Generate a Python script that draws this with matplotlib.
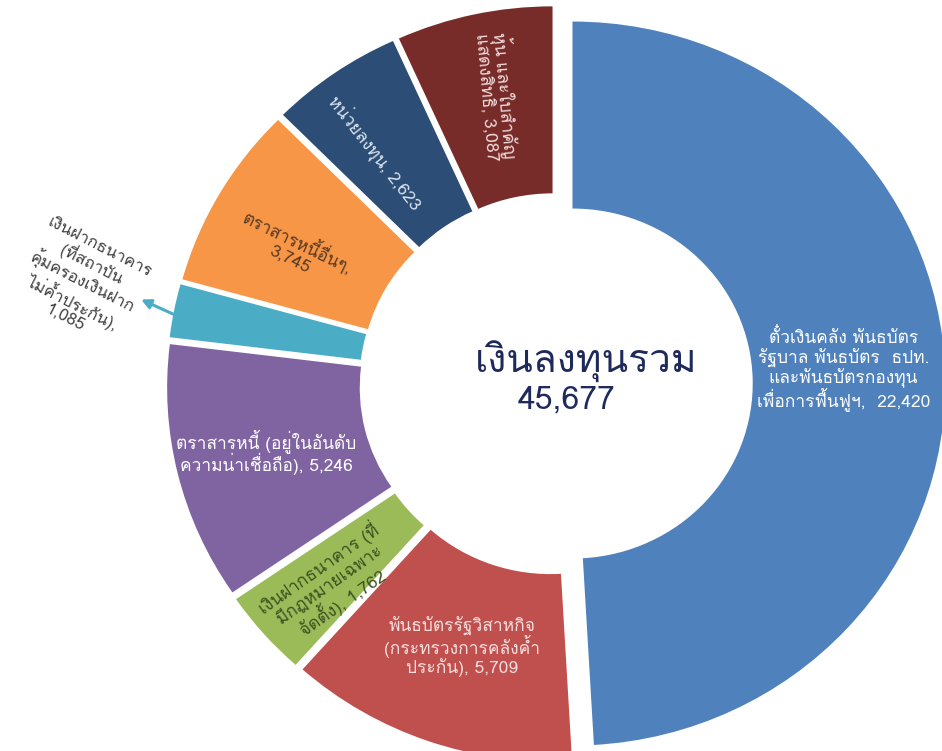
''' Investment portfolio donut chart (Thai labels) '''
import numpy as np
import matplotlib
matplotlib.use('Agg')
import matplotlib.pyplot as plt
from matplotlib import font_manager
from matplotlib.ft2font import FT2Font

# ---- data, clockwise from 12 o'clock ----
names = ['ตั๋วเงินคลัง พันธบัตร\nรัฐบาล พันธบัตร  ธปท.\nและพันธบัตรกองทุน\nเพื่อการฟื้นฟูฯ',
         'พันธบัตรรัฐวิสาหกิจ\n(กระทรวงการคลังค้ำ\nประกัน)',
         'เงินฝากธนาคาร (ที่\nมีกฎหมายเฉพาะ\nจัดตั้ง)',
         'ตราสารหนี้ (อยู่ในอันดับ\nความน่าเชื่อถือ)',
         'เงินฝากธนาคาร\n(ที่สถาบัน\nคุ้มครองเงินฝาก\nไม่ค้ำประกัน)',
         'ตราสารหนี้อื่นๆ',
         'หน่วยลงทุน',
         'หุ้น และใบสำคัญ\nแสดงสิทธิ']
values = [22420, 5709, 1762, 5246, 1085, 3745, 2623, 3087]
joins = [',  ', ', ', ', ', ', ', ',\n', ',\n', ', ', ', ']
total_label = 'เงินลงทุนรวม'
total = sum(values)

colors = ['#4F81BD', '#C0504D', '#9BBB59', '#8064A2',
          '#4BACC6', '#F79646', '#2C4D75', '#772C2A']
text_colors = ['white', '#F5DEDD', '#3B5220', 'white',
               '#404040', '#5A3A22', '#DCE6F2', '#F2DCDB']
rotations = [0, 0, 35, 0, -27, -26, -52, -85]
# small nudges of the in-slice labels (pixels, x right / y up)
nudges = [(-16, 6), (6, 16), (2, -6), (5, 2), (0, 0), (1, -14), (-7, -10), (6, 0)]

SX = 1.03  # the donut is drawn slightly wider than tall


def thai_font():
    '''Find an installed font that has Thai glyphs'''
    for entry in font_manager.fontManager.ttflist:
        try:
            if 0x0E07 in FT2Font(entry.fname).get_charmap():
                return entry.name
        except Exception:
            continue
    return 'DejaVu Sans'


def plot_donut():
    '''Draw the exploded donut with rotated labels'''
    font = thai_font()
    plt.rcParams['font.family'] = [font, 'DejaVu Sans']

    fig = plt.figure(figsize=(9.42, 7.51), dpi=100)
    ax = fig.add_axes([0, 0, 1, 1])

    cx, cy = 556 / SX, 751 - 384
    radius = 362
    ring = 187
    explode = [16] * len(values)

    labels = [n + j + f'{v:,}' for n, j, v in zip(names, joins, values)]
    wedges, texts = ax.pie(values, colors=colors, startangle=90,
                           counterclock=False, explode=explode,
                           center=(cx, cy), radius=radius,
                           labels=labels, labeldistance=0.77,
                           wedgeprops=dict(width=ring, edgecolor='none'))
    for i, txt in enumerate(texts):
        x, y = txt.get_position()
        txt.set_position((x + nudges[i][0] / SX, y + nudges[i][1]))
        txt.set_color(text_colors[i])
        txt.set_rotation(rotations[i])
        txt.set_ha('center')
        txt.set_va('center')
        txt.set_fontsize(12.5)
        txt.set_linespacing(1.0)
        txt.set_rotation_mode('anchor')

    # small slice: label sits outside, with an arrow
    cyan = wedges[4]
    mid = np.deg2rad((cyan.theta1 + cyan.theta2) / 2)
    ox, oy = cyan.center
    tip = (ox + radius * np.cos(mid), oy + radius * np.sin(mid) - 4)
    head = (tip[0] - 33 / SX, tip[1] + 15)
    ax.annotate('', xy=head, xytext=tip,
                arrowprops=dict(arrowstyle='-|>', color='#4BACC6', lw=2.2,
                                mutation_scale=14, shrinkA=0, shrinkB=0))
    texts[4].set_position((tip[0] - 92 / SX, tip[1] + 32))
    texts[4].set_fontsize(12)

    ax.text(cx + 30 / SX, cy + 22, total_label, ha='center', va='center',
            fontsize=28, color='#1F2A5C')
    ax.text(cx + 10 / SX, cy - 16, f'{total:,}', ha='center', va='center',
            fontsize=23, color='#1F2A5C')

    ax.set_xlim(0, 942 / SX)
    ax.set_ylim(0, 751)
    ax.set_aspect('auto')
    ax.axis('off')
    fig.savefig('out.png', dpi=100, facecolor='white')


plot_donut()
